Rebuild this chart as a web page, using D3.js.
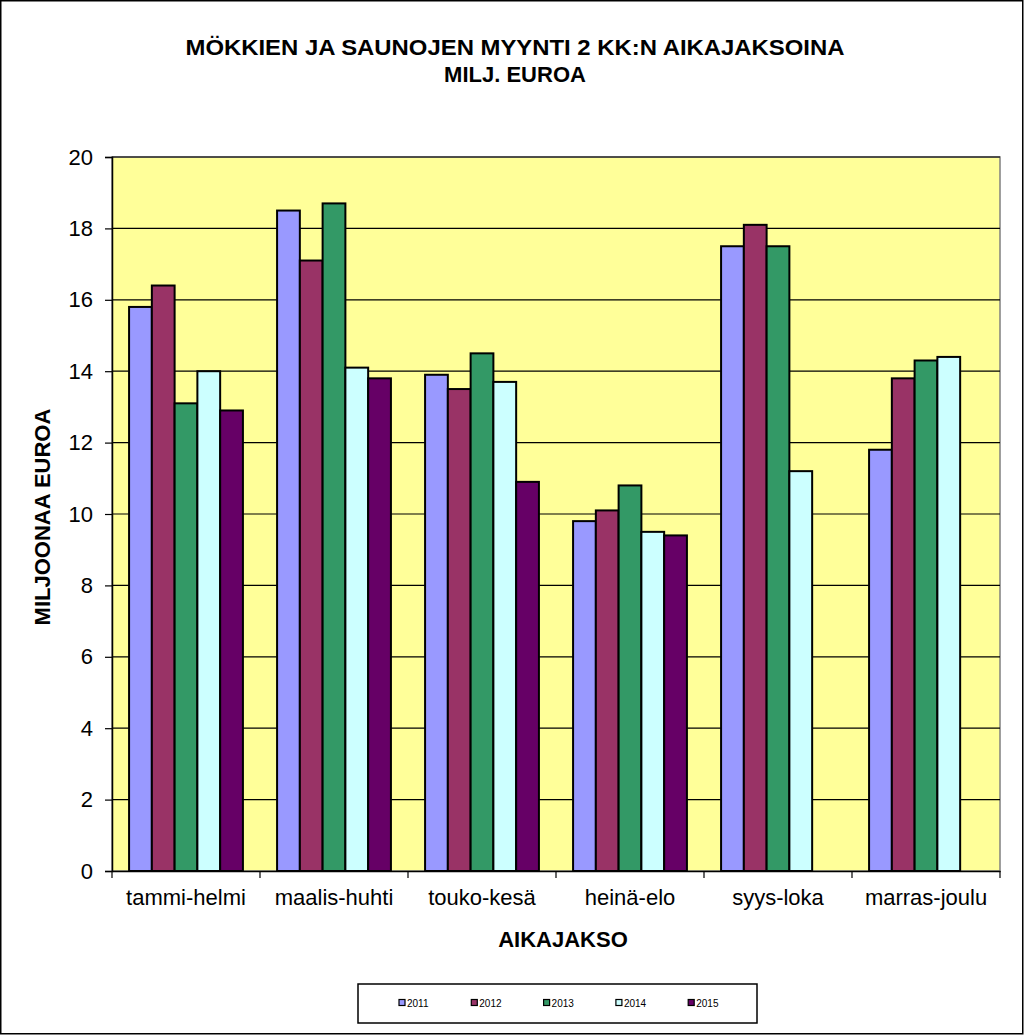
<!DOCTYPE html>
<html><head><meta charset="utf-8">
<script src="https://cdn.jsdelivr.net/npm/d3@7"></script>
<style>body{margin:0;background:#fff}svg{display:block}</style>
</head><body>
<script>
const categories = ["tammi-helmi","maalis-huhti","touko-kesä","heinä-elo","syys-loka","marras-joulu"];
const seriesNames = ["2011","2012","2013","2014","2015"];
const s2011 = [15.8, 18.5, 13.9, 9.8, 17.5, 11.8];
const s2012 = [16.4, 17.1, 13.5, 10.1, 18.1, 13.8];
const s2013 = [13.1, 18.7, 14.5, 10.8, 17.5, 14.3];
const s2014 = [14.0, 14.1, 13.7, 9.5, 11.2, 14.4];
const s2015 = [12.9, 13.8, 10.9, 9.4, null, null];
const yTicks = [0,2,4,6,8,10,12,14,16,18,20];
const colors = ["#9999FF","#993366","#339966","#CCFFFF","#660066"];
const seriesValues = [s2011,s2012,s2013,s2014,s2015];

const W=1024,H=1035;
const ff="Liberation Sans, Arial, sans-serif";
const svg=d3.select("body").append("svg").attr("width",W).attr("height",H);
svg.append("rect").attr("x",0.75).attr("y",0.75).attr("width",W-2).attr("height",H-2).attr("fill","#fff").attr("stroke","#000").attr("stroke-width",1.5);

const L=112,R=1000,T=157,B=871;
const x=d3.scaleBand().domain(categories).range([L,R]).paddingInner(0).paddingOuter(0);
const y=d3.scaleLinear().domain([0,20]).range([B,T]);
const xs=d3.scaleBand().domain(seriesNames).range([0,x.bandwidth()]).paddingInner(0).paddingOuter(0.75);
svg.append("rect").attr("x",L).attr("y",T).attr("width",R-L).attr("height",B-T).attr("fill","#FFFF99").attr("stroke","#808080").attr("stroke-width",1.5);

svg.append("g").selectAll("line").data(yTicks.filter(d=>d>0)).join("line")
 .attr("x1",L).attr("x2",R).attr("y1",d=>y(d)).attr("y2",d=>y(d)).attr("stroke","#000").attr("stroke-width",1.2);

const rows=[];
categories.forEach((c,i)=>seriesNames.forEach((s,j)=>{const v=seriesValues[j][i]; if(v!=null) rows.push({c,s,v,j});}));
svg.append("g").selectAll("rect").data(rows).join("rect")
 .attr("x",d=>x(d.c)+xs(d.s)).attr("y",d=>y(d.v)).attr("width",xs.bandwidth()).attr("height",d=>B-y(d.v))
 .attr("fill",d=>colors[d.j]).attr("stroke","#000").attr("stroke-width",2);

const ya=svg.append("g").attr("transform",`translate(${L},0)`).call(d3.axisLeft(y).tickValues(yTicks).tickSize(7).tickPadding(12));
ya.select(".domain").attr("stroke","#000").attr("stroke-width",1.5);
ya.selectAll("line").attr("stroke","#000").attr("stroke-width",1.2);
ya.selectAll("text").attr("font-family",ff).attr("font-size",22).attr("fill","#000");

const xa=svg.append("g").attr("transform",`translate(0,${B})`).call(d3.axisBottom(x).tickSize(0).tickPadding(18));
xa.select(".domain").attr("stroke","#000").attr("stroke-width",1.5);
xa.selectAll("text").attr("font-family",ff).attr("font-size",22).attr("fill","#000");
svg.append("g").selectAll("line").data(d3.range(categories.length+1)).join("line")
 .attr("x1",i=>L+i*x.step()).attr("x2",i=>L+i*x.step()).attr("y1",B).attr("y2",B+7).attr("stroke","#000").attr("stroke-width",1.2);

svg.append("text").attr("x",515).attr("y",55).attr("text-anchor","middle").attr("font-family",ff).attr("font-weight","bold").attr("font-size",22)
 .attr("textLength",659).attr("lengthAdjust","spacingAndGlyphs").text("MÖKKIEN JA SAUNOJEN MYYNTI 2 KK:N AIKAJAKSOINA");
svg.append("text").attr("x",515).attr("y",82).attr("text-anchor","middle").attr("font-family",ff).attr("font-weight","bold").attr("font-size",22).text("MILJ. EUROA");
svg.append("text").attr("x",563).attr("y",947).attr("text-anchor","middle").attr("font-family",ff).attr("font-weight","bold").attr("font-size",22).text("AIKAJAKSO");
svg.append("text").attr("transform",`translate(50,517) rotate(-90)`).attr("text-anchor","middle").attr("font-family",ff).attr("font-weight","bold").attr("font-size",22).text("MILJOONAA EUROA");

// legend
const lg=svg.append("g");
lg.append("rect").attr("x",358).attr("y",984).attr("width",399).attr("height",39).attr("fill","#fff").attr("stroke","#000").attr("stroke-width",1.5);
const li=lg.selectAll("g").data(seriesNames).join("g").attr("transform",(d,i)=>`translate(${399+i*72.3},1003)`);
li.append("rect").attr("x",0).attr("y",-3.5).attr("width",6).attr("height",6).attr("fill",(d,i)=>colors[i]).attr("stroke","#000").attr("stroke-width",1.2);
li.append("text").attr("x",8).attr("y",3.5).attr("font-family",ff).attr("font-size",10).text(d=>d);
</script>
</body></html>
